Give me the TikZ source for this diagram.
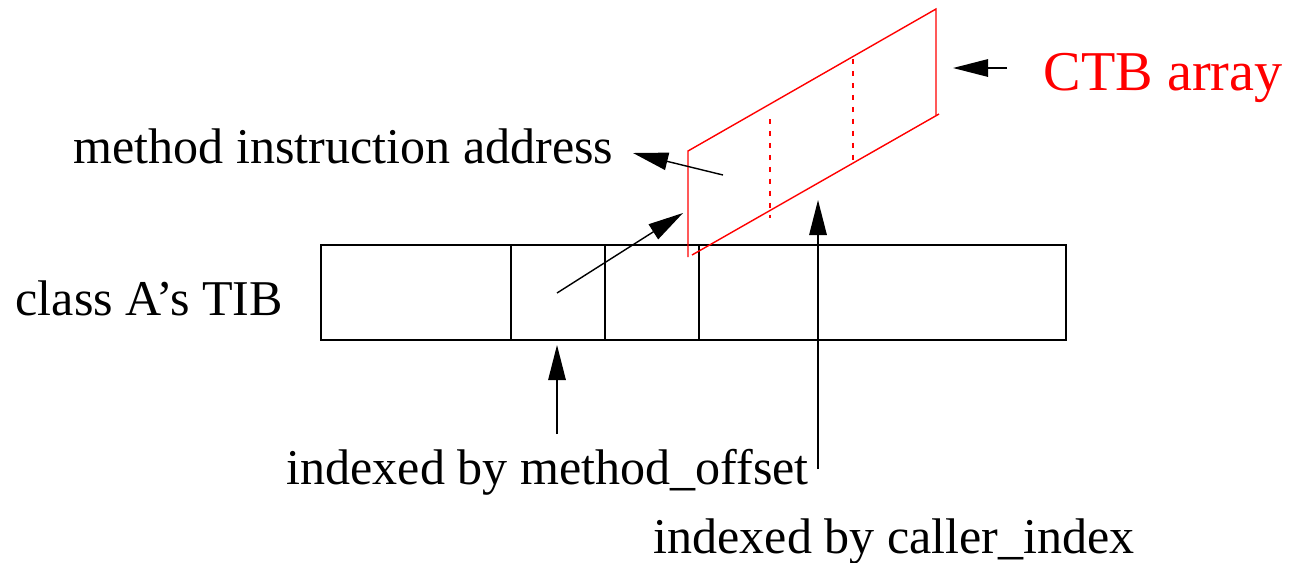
\documentclass[tikz,border=0pt]{standalone}
\usepackage{fontspec}
\setmainfont{Liberation Serif}
\usetikzlibrary{arrows.meta}
\tikzset{
  pointer/.style={-{Triangle[length=20pt,width=10pt]}},
  ctbline/.style={red},
  lbl/.style={inner sep=0pt, anchor=base west, font=\fontsize{28.5}{34}\selectfont},
}
\begin{document}
\begin{tikzpicture}[x=0.02cm, y=-0.02cm, line width=0.8pt]
\useasboundingbox (0,0) rectangle (1293,562);
% class A's TIB
\draw (321,245) rectangle (1066,340);
\foreach \x in {511,605,699}
  \draw (\x,245) -- (\x,340);
% CTB array
\draw[ctbline] (688,257) -- (688,151) -- (936,9) -- (936,115);
\draw[ctbline] (692,255) -- (939,114);
\draw[ctbline, dash pattern=on 2.8pt off 4pt] (770,119) -- (770,218);
\draw[ctbline, dash pattern=on 2.8pt off 4pt] (853,59) -- (853,160);
% labels
\node[lbl] (tib) at (15,315) {class A’s TIB};
\node[lbl] (addr) at (73,163) {method instruction address};
\node[lbl] (moff) at (286,484) {indexed by method\_offset};
\node[lbl] (cidx) at (653,553) {indexed by caller\_index};
\node[lbl, red, font=\fontsize{32}{38}\selectfont] (ctb) at (1043,90) {CTB array};
% arrow ends
\coordinate (slot) at (557,293);
\coordinate (entry) at (683,213);
\coordinate (inctb) at (723,175);
\coordinate (addrtip) at (633,153);
\coordinate (mofftail) at (557,434);
\coordinate (mofftip) at (557,345);
\coordinate (cidxtail) at (818,469);
\coordinate (cidxtip) at (818,200);
\coordinate (ctbtail) at (1007,68);
\coordinate (ctbtip) at (953,68);
\draw[pointer] (slot) -- (entry);
\draw[pointer] (inctb) -- (addrtip);
\draw[pointer] (mofftail) -- (mofftip);
\draw[pointer] (cidxtail) -- (cidxtip);
\draw[pointer] (ctbtail) -- (ctbtip);
\end{tikzpicture}
\end{document}
